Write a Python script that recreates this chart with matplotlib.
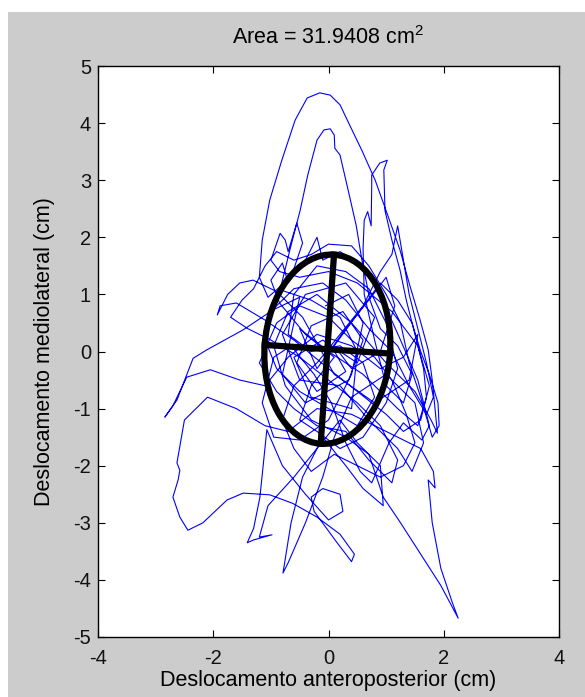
import numpy as np
import matplotlib
matplotlib.use('Agg')
import matplotlib.pyplot as plt
from matplotlib.patches import Ellipse, Rectangle

plt.rcParams['font.family'] = ['Liberation Sans', 'DejaVu Sans']
plt.rcParams['mathtext.default'] = 'regular'
plt.rcParams['axes.unicode_minus'] = False

#=========================================================================
# data (cm)

path_pts = [
    (0.05, 0.10), (0.30, -0.35), (-0.20, -0.70), (-0.55, -0.20), (-0.30, 0.45),
    (0.25, 0.70), (0.60, 0.20), (0.35, -0.50), (-0.40, -0.90), (-0.80, -0.40),
    (-0.50, 0.95), (-0.96, 0.73), (-1.48, 0.38), (-2.11, 0.03), (-2.35, -0.12),
    (-2.63, -0.85), (-2.84, -1.15), (-2.70, -0.95), (-2.46, -0.45), (-2.05, -0.32),
    (-1.54, -0.50), (-1.10, -0.60), (-0.70, -0.10), (-0.20, 0.30), (0.40, 0.10),
    (0.90, -0.30), (1.30, -0.10), (1.55, 0.30), (1.40, -0.50), (0.80, -0.90),
    (0.10, -0.40), (-0.45, 0.60), (-0.90, 1.05),
    (-1.31, 1.25), (-1.54, 1.20), (-1.75, 1.00), (-1.93, 0.64), (-1.88, 0.80),
    (-1.60, 0.85), (-1.10, 0.55), (-0.60, 0.20), (0.00, -0.30), (0.50, -0.70),
    (1.00, -1.10), (1.30, -1.40), (1.60, -1.20), (1.75, -0.60), (1.55, 0.10),
    (1.10, 0.70), (0.50, 1.20), (0.00, 1.40), (-0.50, 1.30), (-0.85, 1.40),
    (-1.00, 1.60), (-0.84, 2.07), (-0.75, 1.95), (-0.70, 1.75), (-0.55, 2.25),
    (-0.45, 1.90), (-0.65, 1.30), (-1.05, 0.95), (-1.20, 1.30), (-1.15, 1.95),
    (-1.02, 2.65), (-0.81, 3.35), (-0.58, 4.05), (-0.37, 4.44), (-0.15, 4.53),
    (0.03, 4.49), (0.20, 4.32), (0.37, 3.96), (0.58, 3.52), (0.81, 3.00),
    (1.03, 2.38), (1.24, 1.78), (1.41, 1.16), (1.59, 0.55), (1.73, 0.03),
    (1.80, -0.50), (1.85, -1.02), (1.89, -1.43), (1.78, -1.20), (1.50, -0.70),
    (1.00, -0.20), (0.40, 0.50), (-0.20, 1.00), (-0.70, 0.70), (-0.95, 0.10),
    (-0.75, -0.60), (-0.30, -1.20), (0.30, -1.50),
    (0.70, -1.80), (0.95, -2.55), (1.25, -3.00), (1.60, -3.55), (1.95, -4.10),
    (2.25, -4.67), (2.15, -4.40), (1.95, -3.80), (1.80, -3.00), (1.73, -2.25),
    (1.85, -2.39), (1.82, -2.10), (1.60, -1.70), (1.30, -1.55), (0.90, -1.35),
    (0.40, -1.10), (-0.20, -1.00),
    (-0.70, -1.40), (-1.10, -1.30), (-1.60, -1.00), (-2.10, -0.80), (-2.50, -1.20),
    (-2.63, -1.95), (-2.58, -2.08), (-2.61, -2.25), (-2.70, -2.55), (-2.58, -2.90),
    (-2.44, -3.13), (-2.18, -3.00), (-1.76, -2.60), (-1.48, -2.48), (-1.02, -2.51),
    (-0.62, -2.66), (-0.20, -2.90), (0.20, -3.20), (0.45, -3.55), (0.40, -3.68),
    (0.15, -3.35), (-0.25, -2.80), (-0.30, -2.55), (-0.10, -2.40), (0.20, -2.50),
    (0.25, -2.80), (0.00, -2.95), (-0.40, -2.50), (-0.80, -2.00), (-1.07, -1.37),
    (-1.19, -2.55), (-1.30, -3.10), (-1.41, -3.35), (-1.30, -3.30), (-0.98, -3.21),
    (-1.20, -3.25), (-1.05, -2.70), (-0.60, -2.20), (-0.20, -1.70), (0.20, -1.20),
    (0.50, -1.60), (0.90, -2.00), (0.95, -2.70), (0.60, -2.40), (0.30, -2.00),
    (-0.10, -1.50), (-0.45, -2.20), (-0.65, -3.00), (-0.79, -3.88), (-0.70, -3.70),
    (-0.40, -3.00), (-0.10, -2.20), (0.10, -1.50), (0.40, -0.80), (1.00, -0.40),
    (1.50, -0.90), (1.65, -1.60), (1.45, -2.10), (1.20, -1.70),
    (0.70, -1.20), (0.20, -0.60), (-0.50, -0.50), (-0.80, 0.30), (-0.40, 1.00),
    (0.30, 1.20), (0.80, 0.60), (0.50, -0.20), (-0.10, 0.20), (-0.60, -0.10),
    (-0.30, -0.80), (0.40, -1.00),
    (0.50, 0.00), (0.20, 0.60), (-0.30, 0.90), (-0.84, 1.08), (-0.67, 1.78),
    (-0.49, 2.48), (-0.36, 3.09), (-0.20, 3.70), (-0.08, 3.88), (0.03, 3.90),
    (0.10, 3.79), (0.11, 3.56), (0.20, 3.44), (0.34, 2.83), (0.48, 2.21),
    (0.58, 1.60), (0.72, 0.90), (0.90, 0.40), (1.20, 0.10), (1.45, -0.40),
    (1.30, -0.90), (1.00, -0.60),
    (0.80, 0.20), (0.62, 1.00), (0.60, 1.80), (0.62, 2.30), (0.68, 2.45),
    (0.74, 2.20), (0.75, 2.90), (0.75, 3.09), (0.89, 3.30), (1.02, 3.35),
    (0.96, 3.18), (0.98, 2.47), (1.10, 1.95), (1.24, 1.43), (1.35, 0.90),
    (1.50, 0.30), (1.65, -0.30), (1.70, -0.80), (1.55, -1.30), (1.20, -1.00),
    (0.60, -0.40), (0.00, 0.00), (-0.50, 0.40), (-0.20, -0.30), (0.30, 0.40),
    (0.70, 0.90), (1.00, 1.30), (1.15, 0.80), (0.90, 0.00), (0.40, -0.30),
    (0.10, 0.10),
    (0.90, 1.20), (1.20, 0.90), (1.45, 0.50), (1.60, 0.00), (1.75, -0.40),
    (1.90, -0.90), (1.92, -1.30), (1.80, -1.50), (1.60, -0.80), (1.40, -0.20),
    (1.25, 0.50), (1.00, 1.00), (0.70, 1.50), (0.40, 1.85), (0.00, 1.88),
    (-0.30, 1.70), (-0.60, 1.60), (-0.90, 1.75), (-1.10, 1.50), (-1.30, 1.10),
    (-1.50, 0.90), (-1.70, 0.60), (-1.40, 0.40), (-1.00, 0.20), (-0.50, -0.10),
    (0.00, -0.50), (0.50, -0.90), (0.90, -1.30), (1.20, -1.90), (1.10, -2.30),
    (0.70, -1.90), (0.30, -1.40), (-0.20, -1.30), (-0.60, -1.00), (-0.90, -0.70),
    (-1.20, -0.20), (-0.90, 0.50), (-0.50, 0.80), (0.00, 0.60), (0.40, 0.20),
    (0.80, -0.10), (1.10, -0.50), (1.35, -1.10), (1.50, -1.60), (1.30, -2.00),
    (0.90, -2.20), (0.50, -2.00), (0.10, -1.80), (-0.30, -2.10), (-0.60, -1.70),
    (-0.80, -1.20), (-0.60, -0.60), (-0.20, -0.20), (0.20, 0.30), (0.60, 0.80),
    (0.90, 1.40), (1.10, 1.70), (1.20, 2.20), (1.30, 1.60), (1.40, 1.00),
    (1.55, 0.40), (1.70, -0.20), (1.82, -0.80), (1.70, -1.10), (1.40, -0.60),
    (1.10, 0.00), (0.70, 0.40), (0.30, 0.90), (-0.10, 1.20), (-0.60, 1.10),
    (-1.00, 0.70), (-1.10, 0.20), (-0.90, -0.30), (-0.50, -0.70), (0.00, -1.00),
    (0.50, -1.30), (0.80, -0.80), (0.60, -0.20), (0.20, 0.10), (-0.30, 0.00),
    (-0.70, 0.30), (-0.60, 1.00), (-0.20, 1.50), (0.30, 1.40), (0.70, 1.10),
    (1.00, 0.50), (1.20, -0.30), (1.00, -0.90), (0.60, -1.50), (0.20, -1.70),
    (-0.20, -1.40), (-0.50, -1.20), (-0.30, -0.60), (0.10, -0.10),
    (-0.40, 0.30), (-0.85, 0.85), (-1.00, 1.25), (-0.80, 1.55), (-0.70, 1.20),
    (-0.40, 1.60), (-0.20, 2.00), (-0.10, 1.60), (0.20, 1.75), (0.50, 1.55),
    (0.85, 1.10), (1.25, 0.20), (1.55, -0.50), (1.75, -1.30), (1.62, -1.55),
    (1.30, -1.25), (1.05, -1.60), (0.75, -2.30), (0.55, -2.10), (0.30, -1.60),
    (0.05, -0.90), (-0.25, -0.40), (-0.65, 0.10), (-0.95, -0.10), (-1.15, -0.90),
    (-0.95, -1.50), (-0.50, -1.55), (0.00, -1.20), (0.40, -0.40), (0.60, 0.50),
    (0.35, 1.00), (-0.05, 0.80),
]
ap_cm = [p[0] for p in path_pts]
ml_cm = [p[1] for p in path_pts]

ellipse_center = (-0.02, 0.04)
ellipse_axes = (1.09, 1.66)    # semi-axes (horizontal, vertical)
ellipse_angle = -4.0           # degrees

area_label = 'Area = 31.9408 cm$^2$'
x_ticks = [-4, -2, 0, 2, 4]
y_ticks = [-5, -4, -3, -2, -1, 0, 1, 2, 3, 4, 5]

#=========================================================================

fig = plt.figure(figsize=(5.85, 6.97), dpi=100, facecolor='white')
# grey MATLAB window, white strip top/left from the screenshot
fig.patches.append(Rectangle((8 / 585, 0), 1, (697 - 12) / 697, transform=fig.transFigure,
                             facecolor='#cccccc', edgecolor='none', zorder=-10))

ax = fig.add_axes([98 / 585, 60 / 697, 461 / 585, 571 / 697])
ax.set_zorder(5)
ax.plot(ap_cm, ml_cm, color='#0000ff', lw=0.8, zorder=2)

a, b = ellipse_axes
ax.add_patch(Ellipse(ellipse_center, 2 * a, 2 * b, angle=ellipse_angle, fill=False,
                     edgecolor='black', lw=4.5, zorder=3))
th = np.deg2rad(ellipse_angle)
cx, cy = ellipse_center
ux, uy = a * np.cos(th), a * np.sin(th)
vx, vy = -b * np.sin(th), b * np.cos(th)
ax.plot([cx - ux, cx + ux], [cy - uy, cy + uy], color='black', lw=4.5, zorder=3)
ax.plot([cx - vx, cx + vx], [cy - vy, cy + vy], color='black', lw=4.5, zorder=3)

ax.set_xlim(-4, 4)
ax.set_ylim(-5, 5)
ax.set_xticks(x_ticks)
ax.set_yticks(y_ticks)
ax.tick_params(direction='in', length=5, top=True, right=True, labelsize=14.5,
               labelcolor='#111111')
ax.tick_params(axis='x', pad=9)
ax.tick_params(axis='y', pad=5)
for s in ax.spines.values():
    s.set_linewidth(1.0)
ax.set_title(area_label, fontsize=15.5, pad=16)
ax.set_xlabel('Deslocamento anteroposterior (cm)', fontsize=15.5, labelpad=1)
ax.set_ylabel('Deslocamento mediolateral (cm)', fontsize=15.5, labelpad=13)

fig.savefig('out.png', dpi=100, facecolor=fig.get_facecolor())
